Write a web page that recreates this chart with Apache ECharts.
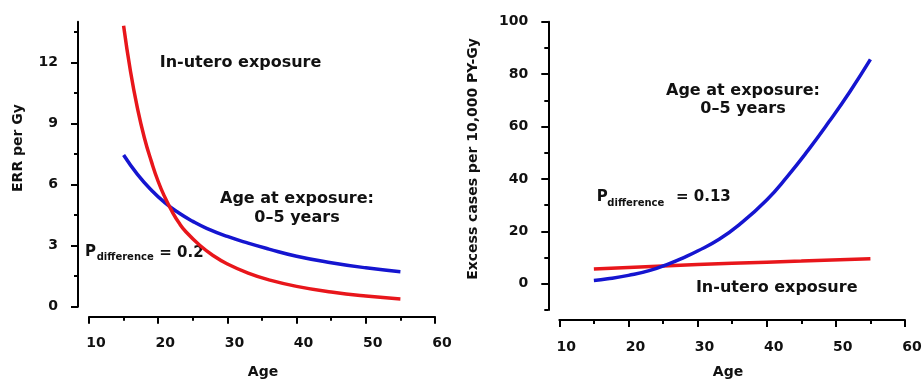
<!DOCTYPE html>
<html><head><meta charset="utf-8">
<script src="https://cdn.jsdelivr.net/npm/echarts@6/dist/echarts.min.js"></script>
<style>html,body{margin:0;padding:0;background:#fff}#c{width:923px;height:380px}</style>
</head><body><div id="c"></div>
<script>
// ---- data ----
const leftRedAges  = [15, 16, 17, 18, 19, 20, 21, 22, 23, 24, 26, 28, 30, 33, 36, 40, 45, 50, 55];
const leftRedErr   = [13.8, 11.55, 9.75, 8.3, 7.15, 6.15, 5.35, 4.68, 4.12, 3.68, 3.02, 2.5, 2.1, 1.65, 1.32, 1.0, 0.72, 0.52, 0.38];
const leftBlueAges = [15, 17, 19, 21, 23, 25, 27, 30, 33, 36, 40, 45, 50, 55];
const leftBlueErr  = [7.45, 6.5, 5.73, 5.1, 4.6, 4.19, 3.85, 3.45, 3.12, 2.83, 2.48, 2.16, 1.91, 1.72];

const rightRedAges    = [15, 25, 35, 45, 55];
const rightRedExcess  = [5.6, 6.8, 7.8, 8.7, 9.6];
const rightBlueAges   = [15, 17, 20, 23, 26, 28, 30, 33, 36, 40, 43, 46, 49, 52, 55];
const rightBlueExcess = [1.3, 1.9, 3.2, 5.0, 7.8, 10.0, 12.5, 16.8, 22.5, 32, 41, 51, 61.8, 73.2, 85.6];

const xTicks      = [10, 20, 30, 40, 50, 60];
const leftYTicks  = [0, 3, 6, 9, 12];
const leftYMinor  = [1.5, 4.5, 7.5, 10.5, 13.5];
const rightYTicks = [0, 20, 40, 60, 80, 100];
const rightYMinor = [-10, 10, 30, 50, 70, 90];

const RED = '#e8161b', BLUE = '#1515d0', INK = '#111';
const FONT = 'DejaVu Sans';

function pairs(xs, ys) { return xs.map((x, i) => [x, ys[i]]); }

const axisLineStyle = { show: true, onZero: false, lineStyle: { color: '#000', width: 2 } };
const labelStyle = { fontFamily: FONT, fontWeight: 'bold', fontSize: 14, color: INK };

function xAxisFor(gridIndex) {
  return {
    type: 'value', gridIndex, min: xTicks[0], max: xTicks[xTicks.length - 1], interval: 10,
    offset: 10,
    axisLine: axisLineStyle,
    axisTick: { show: true, length: 7, lineStyle: { color: '#000', width: 2 } },
    minorTick: { show: true, splitNumber: 2, length: 4, lineStyle: { color: '#000', width: 2 } },
    splitLine: { show: false },
    axisLabel: Object.assign({ margin: 20, padding: [0, 0, 0, 14] }, labelStyle)
  };
}
function yAxisMajor(gridIndex, min, max, ticks) {
  return {
    type: 'value', gridIndex, min, max, position: 'left', offset: 11,
    axisLine: axisLineStyle,
    axisTick: { show: true, length: 7, customValues: ticks, lineStyle: { color: '#000', width: 2 } },
    splitLine: { show: false },
    axisLabel: Object.assign({ margin: 20, customValues: ticks }, labelStyle)
  };
}
function yAxisMinor(gridIndex, min, max, ticks) {
  return {
    type: 'value', gridIndex, min, max, position: 'left', offset: 11,
    axisLine: { show: false, onZero: false },
    axisTick: { show: true, length: 4, customValues: ticks, lineStyle: { color: '#000', width: 2 } },
    splitLine: { show: false },
    axisLabel: { show: false }
  };
}

function txt(x, y, text, size, align, lineHeight, extra) {
  return Object.assign({
    type: 'text', x, y, silent: true,
    style: { text, fontFamily: FONT, fontWeight: 'bold', fontSize: size, fill: INK,
             align: align || 'center', verticalAlign: 'middle', lineHeight: lineHeight || size + 3 }
  }, extra || {});
}

function curve(xi, yi, data, color) {
  return { type: 'line', xAxisIndex: xi, yAxisIndex: yi, data, smooth: true, showSymbol: false,
           lineStyle: { color, width: 3.5 }, itemStyle: { color } };
}

const chart = echarts.init(document.getElementById('c'), null, { renderer: 'canvas' });
chart.setOption({
  backgroundColor: '#fff',
  animation: false,
  grid: [
    { left: 89, right: 488, top: 21.7, bottom: 73.3, outerBoundsMode: 'none' },
    { left: 559.3, right: 18, top: 21.7, bottom: 70, outerBoundsMode: 'none' }
  ],
  xAxis: [xAxisFor(0), xAxisFor(1)],
  yAxis: [
    yAxisMajor(0, 0, 14, leftYTicks),
    yAxisMinor(0, 0, 14, leftYMinor),
    yAxisMajor(1, -10, 100, rightYTicks),
    yAxisMinor(1, -10, 100, rightYMinor)
  ],
  series: [
    curve(0, 0, pairs(leftBlueAges, leftBlueErr), BLUE),
    curve(0, 0, pairs(leftRedAges, leftRedErr), RED),
    curve(1, 2, pairs(rightRedAges, rightRedExcess), RED),
    curve(1, 2, pairs(rightBlueAges, rightBlueExcess), BLUE)
  ],
  graphic: [
    // axis titles
    txt(263, 372, 'Age', 14),
    txt(728, 372, 'Age', 14),
    txt(18, 148, 'ERR per Gy', 14, 'center', null, { rotation: Math.PI / 2 }),
    txt(473, 159, 'Excess cases per 10,000 PY-Gy', 14, 'center', null, { rotation: Math.PI / 2 }),
    // left annotations
    txt(240.5, 63, 'In-utero exposure', 16),
    txt(297, 208, 'Age at exposure:\n0–5 years', 16, 'center', 19),
    txt(85, 252.5, 'P', 15, 'left'),
    txt(96.7, 257, 'difference', 10, 'left'),
    txt(159.3, 253, '= 0.2', 15, 'left'),
    // right annotations
    txt(743, 100, 'Age at exposure:\n0–5 years', 16, 'center', 18.5),
    txt(776.7, 287.5, 'In-utero exposure', 16),
    txt(596.7, 197.5, 'P', 15, 'left'),
    txt(607.3, 203, 'difference', 10, 'left'),
    txt(676, 197.5, '= 0.13', 15, 'left')
  ]
});
</script>
</body></html>
